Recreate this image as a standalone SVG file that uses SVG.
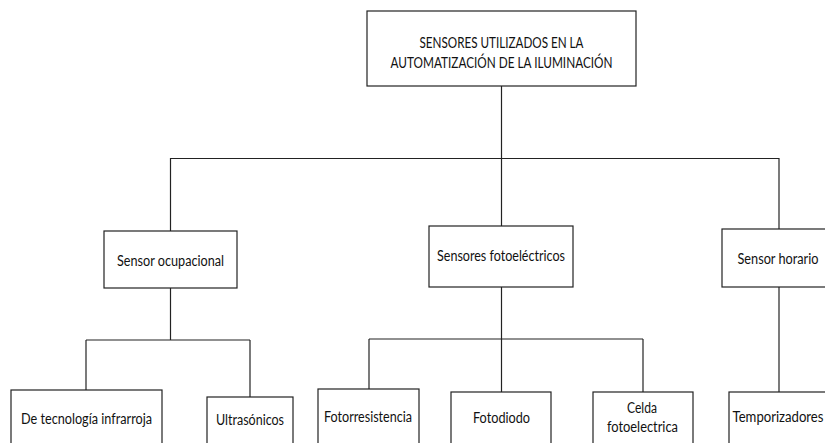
<svg xmlns="http://www.w3.org/2000/svg" width="825" height="443" viewBox="0 0 825 443">
<style>
rect{fill:#fff;stroke:#222;stroke-width:1.2}
.c line{stroke:#222;stroke-width:1.2}
text{font-family:Lato,"Open Sans","Liberation Sans",sans-serif;font-size:14.5px;fill:#111;text-anchor:middle}
</style>
<rect x="0" y="0" width="825" height="443" style="stroke:none"/>
<g class="c" id="connectors">
<line x1="501.5" y1="86" x2="501.5" y2="158.5"/>
<line x1="170.5" y1="158.5" x2="779" y2="158.5"/>
<line x1="170.5" y1="158" x2="170.5" y2="231"/>
<line x1="501.5" y1="158" x2="501.5" y2="226"/>
<line x1="779" y1="158" x2="779" y2="229"/>
<line x1="170.5" y1="288" x2="170.5" y2="340"/>
<line x1="86" y1="340" x2="250" y2="340"/>
<line x1="86" y1="340" x2="86" y2="390"/>
<line x1="250" y1="340" x2="250" y2="397"/>
<line x1="501.5" y1="287" x2="501.5" y2="339"/>
<line x1="369" y1="339" x2="643" y2="339"/>
<line x1="369" y1="339" x2="369" y2="389"/>
<line x1="501.5" y1="339" x2="501.5" y2="392"/>
<line x1="643" y1="339" x2="643" y2="392"/>
<line x1="779" y1="287" x2="779" y2="392"/>
</g>
<g id="root"><rect x="367" y="11" width="269" height="75"/><text x="501.5" y="48" textLength="164" lengthAdjust="spacingAndGlyphs">SENSORES UTILIZADOS EN LA</text><text x="501.5" y="68" textLength="222" lengthAdjust="spacingAndGlyphs">AUTOMATIZACIÓN DE LA ILUMINACIÓN</text></g>
<g id="ocupacional"><rect x="104" y="231" width="133" height="57"/><text x="170.5" y="266" textLength="107" lengthAdjust="spacingAndGlyphs">Sensor ocupacional</text></g>
<g id="fotoelectricos"><rect x="429" y="226" width="144" height="61"/><text x="501" y="261" textLength="128" lengthAdjust="spacingAndGlyphs">Sensores fotoeléctricos</text></g>
<g id="horario"><rect x="722" y="229" width="114" height="58"/><text x="778" y="264" textLength="81" lengthAdjust="spacingAndGlyphs">Sensor horario</text></g>
<g id="infrarroja"><rect x="11" y="390" width="151" height="60"/><text x="86.5" y="424" textLength="131" lengthAdjust="spacingAndGlyphs">De tecnología infrarroja</text></g>
<g id="ultrasonicos"><rect x="207" y="397" width="86" height="60"/><text x="250" y="425" textLength="68" lengthAdjust="spacingAndGlyphs">Ultrasónicos</text></g>
<g id="fotorresistencia"><rect x="318" y="389" width="101" height="60"/><text x="368" y="422" textLength="88" lengthAdjust="spacingAndGlyphs">Fotorresistencia</text></g>
<g id="fotodiodo"><rect x="451" y="392" width="100" height="60"/><text x="501.5" y="423" textLength="57" lengthAdjust="spacingAndGlyphs">Fotodiodo</text></g>
<g id="celda"><rect x="593" y="392" width="100" height="60"/><text x="642" y="413" textLength="30" lengthAdjust="spacingAndGlyphs">Celda</text><text x="642.5" y="432" textLength="71" lengthAdjust="spacingAndGlyphs">fotoelectrica</text></g>
<g id="temporizadores"><rect x="729" y="392" width="100" height="60"/><text x="778" y="422" textLength="91" lengthAdjust="spacingAndGlyphs">Temporizadores</text></g>
</svg>
